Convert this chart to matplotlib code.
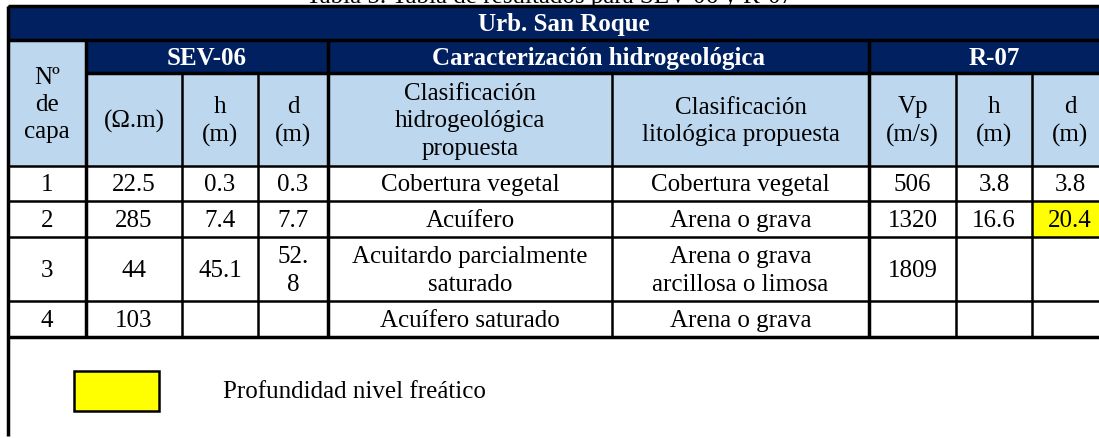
"""Tabla de resultados SEV-06 y R-07 (Urb. San Roque) redrawn as a matplotlib table"""
import matplotlib.pyplot as plt
from matplotlib.patches import Rectangle

# table content
title = "Tabla 5. Tabla de resultados para SEV-06 y R-07"
site = "Urb. San Roque"
groups = ["SEV-06", "Caracterización hidrogeológica", "R-07"]
col_headers = ["(\u03a9.m)", "h\n(m)", "d\n(m)",
               "Clasificación\nhidrogeológica\npropuesta",
               "Clasificación\nlitológica propuesta",
               "Vp\n(m/s)", "h\n(m)", "d\n(m)"]
layer_header = "Nº\nde\ncapa"

layers = ["1", "2", "3", "4"]
sev_rho = ["22.5", "285", "44", "103"]
sev_h = ["0.3", "7.4", "45.1", ""]
sev_d = ["0.3", "7.7", "52.\n8", ""]
hydro_class = ["Cobertura vegetal", "Acuífero",
               "Acuitardo parcialmente\nsaturado", "Acuífero saturado"]
litho_class = ["Cobertura vegetal", "Arena o grava",
               "Arena o grava\narcillosa o limosa", "Arena o grava"]
r_vp = ["506", "1320", "1809", ""]
r_h = ["3.8", "16.6", "", ""]
r_d = ["3.8", "20.4", "", ""]
water_table = (1, 8)   # (row, col) of the highlighted cell
legend_text = "Profundidad nivel freático"

NAVY = "#002060"
LIGHT = "#BDD7EE"
YELLOW = "#FFFF00"
FONT = "Liberation Serif"
FS = 18

W, H = 1099, 439
fig = plt.figure(figsize=(W / 100, H / 100), dpi=100)
ax = fig.add_axes([0, 0, 1, 1])
ax.set_xlim(0, W)
ax.set_ylim(H, 0)
ax.axis("off")

xs = [8, 86, 182, 258, 328, 612, 869, 956, 1032, 1108]
ys = [7, 41, 74, 167, 202, 238, 302, 338]


def cell(x0, x1, y0, y1, fill, text="", color="black", bold=False, ls=1.4):
    ax.add_patch(Rectangle((x0, y0), x1 - x0, y1 - y0, facecolor=fill,
                           edgecolor="none", zorder=1))
    if text:
        ax.text((x0 + x1) / 2, (y0 + y1) / 2 + 1, text, ha="center", va="center",
                fontsize=FS, family=FONT, color=color,
                fontweight="bold" if bold else "normal",
                linespacing=ls, zorder=3)


# title, mostly cut off at the top of the picture
ax.text(550, 2.5, title, ha="center", va="baseline", fontsize=FS, family=FONT, zorder=3)

# header rows
cell(xs[0], W + 20, ys[0], ys[1], NAVY, site, "white", True)
cell(xs[0], xs[1], ys[1], ys[3], LIGHT, layer_header, ls=1.3)
cell(xs[1], xs[4], ys[1], ys[2], NAVY, groups[0], "white", True)
cell(xs[4], xs[6], ys[1], ys[2], NAVY, groups[1], "white", True)
cell(xs[6], W + 20, ys[1], ys[2], NAVY, groups[2], "white", True)
for i, lab in enumerate(col_headers):
    cell(xs[i + 1], xs[i + 2], ys[2], ys[3], LIGHT, lab, ls=1.3)

# body
columns = [layers, sev_rho, sev_h, sev_d, hydro_class, litho_class, r_vp, r_h, r_d]
for r in range(len(layers)):
    for c, col in enumerate(columns):
        fill = YELLOW if (r, c) == water_table else "white"
        cell(xs[c], xs[c + 1], ys[r + 3], ys[r + 4], fill, col[r], ls=1.3)

# grid lines
lw_thin, lw_thick = 1.8, 2.5
ax.hlines(ys[0], xs[0], W, color="black", lw=lw_thick, zorder=4)
ax.hlines(ys[1], xs[0], W, color="black", lw=lw_thick, zorder=4)
ax.hlines(ys[2], xs[1], W, color="black", lw=lw_thick, zorder=4)
for y in ys[3:-1]:
    ax.hlines(y, xs[0], W, color="black", lw=lw_thin, zorder=4)
ax.hlines(ys[-1], xs[0], W, color="black", lw=lw_thick, zorder=4)
ax.vlines(xs[0], ys[0], 437, color="black", lw=lw_thick, zorder=4)
ax.vlines(xs[1], ys[1], ys[-1], color="black", lw=lw_thick, zorder=4)
for x in [xs[4], xs[6]]:
    ax.vlines(x, ys[1], ys[-1], color="black", lw=lw_thick, zorder=4)
for x in [xs[2], xs[3], xs[5], xs[7], xs[8]]:
    ax.vlines(x, ys[2], ys[-1], color="black", lw=lw_thin, zorder=4)

# legend below the table
ax.add_patch(Rectangle((74, 372), 85, 40, facecolor=YELLOW, edgecolor="black",
                       lw=lw_thin, zorder=4))
ax.text(223, 392, legend_text, ha="left", va="center", fontsize=FS, family=FONT, zorder=3)

fig.savefig("out.png", dpi=100)
